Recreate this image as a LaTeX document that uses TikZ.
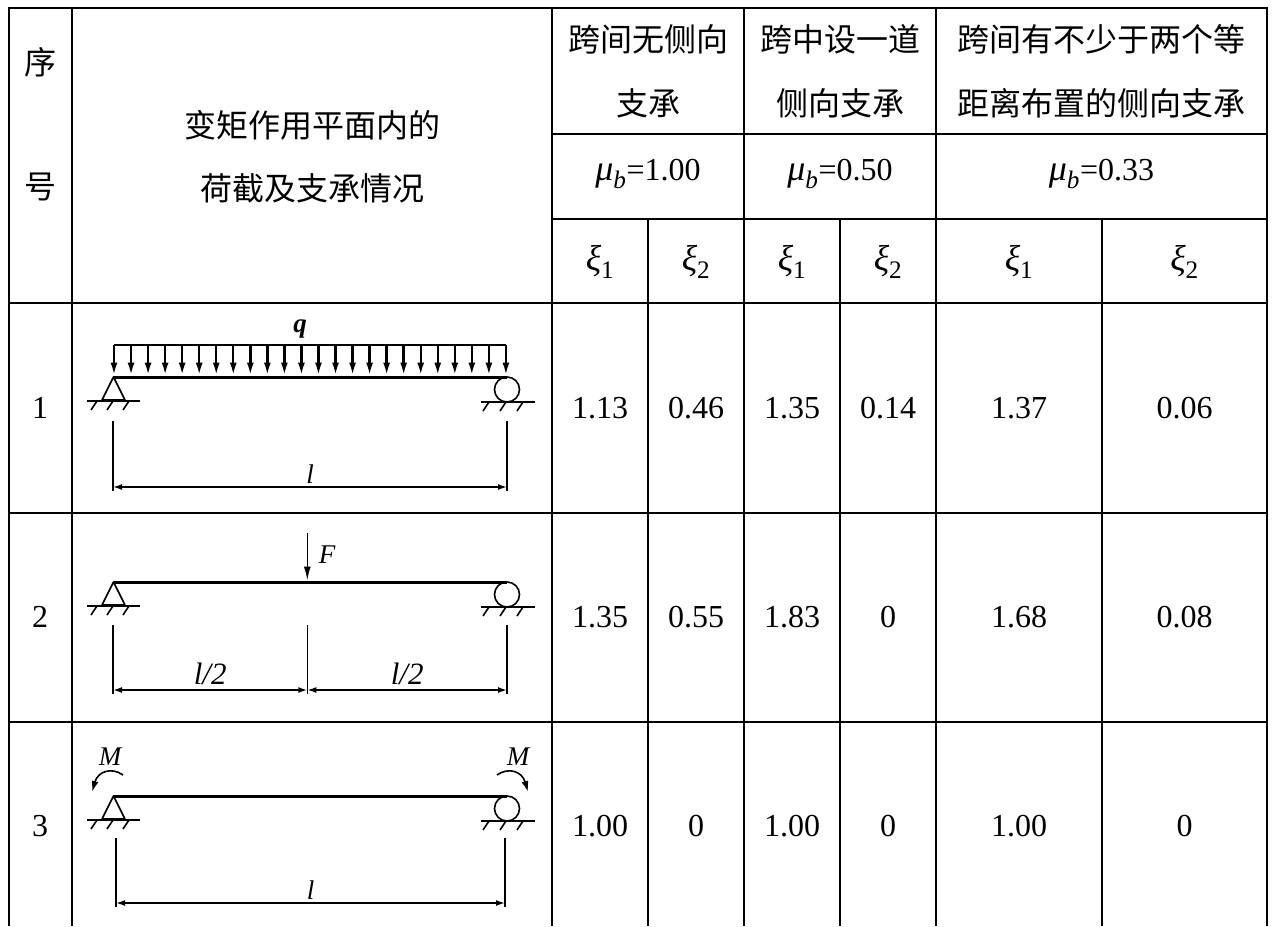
\documentclass[tikz,border=0pt]{standalone}
\usepackage{fontspec}
\setmainfont{Liberation Serif}
\newfontfamily\cjk{Noto Sans CJK SC}
\usetikzlibrary{arrows.meta}
\newcommand\mub{{\fontsize{36}{36}\selectfont\textit{μ}\textsubscript{\textit{b}}}}
\tikzset{
	hz/.style={font=\cjk\fontsize{32}{32}\selectfont},
	num/.style={font=\fontsize{32}{32}\selectfont},
	sym/.style={font=\fontsize{36}{36}\selectfont},
	lbl/.style={font=\fontsize{27}{27}\selectfont\itshape},
	gridline/.style={line width=2pt},
	beam/.style={line width=3pt},
	fine/.style={line width=1.6pt},
	load/.style={line width=2.4pt,-{Latex[length=13pt,width=7pt]}},
	dimline/.style={line width=1.6pt,{Latex[length=9pt,width=6pt]}-{Latex[length=9pt,width=6pt]}}
}
\begin{document}
\begin{tikzpicture}[x=1pt,y=-1pt]
	\useasboundingbox (0,0) rectangle (1273,926);
	\draw [gridline] (8.7,926) -- (8.7,7.5) -- (1267,7.5) -- (1267,926);
	\foreach \x in {71.7,552,744,936}
	\draw [gridline] (\x,7.5) -- (\x,926);
	\foreach \x in {647.5,840,1102}
	\draw [gridline] (\x,219) -- (\x,926);
	\foreach \y in {134,219}
	\draw [gridline] (552,\y) -- (1267,\y);
	\foreach \y in {303,512.5,721.5}
	\draw [gridline] (8.7,\y) -- (1267,\y);
	\node [hz] (xu) at (40,62) {序};
	\node [hz] (hao) at (40,187) {号};
	\node [hz] (case1) at (312,125) {变矩作用平面内的};
	\node [hz] (case2) at (312,188) {荷截及支承情况};
	\node [hz] (none1) at (648,39) {跨间无侧向};
	\node [hz] (none2) at (648,103) {支承};
	\node [hz] (one1) at (840,39) {跨中设一道};
	\node [hz] (one2) at (840,103) {侧向支承};
	\node [hz] (two1) at (1101.5,39) {跨间有不少于两个等};
	\node [hz] (two2) at (1101.5,103) {距离布置的侧向支承};
	\node [num] (mu1) at (648,174) {\mub=1.00};
	\node [num] (mu2) at (840,174) {\mub=0.50};
	\node [num] (mu3) at (1101.5,174) {\mub=0.33};
	\foreach \x/\k [count=\i] in {600/1,696/2,792/1,888/2,1019/1,1184.5/2}
	\node [sym] (xi\i) at (\x,262) {\textit{ξ}\textsubscript{\k}};
	\foreach \y/\r/\a/\b/\c/\d/\e/\f in {408/1/1.13/0.46/1.35/0.14/1.37/0.06,617/2/1.35/0.55/1.83/0/1.68/0.08,826/3/1.00/0/1.00/0/1.00/0}{
		\node [num] (no\r) at (40,\y) {\r};
		\node [num] (v\r a) at (600,\y) {\a};
		\node [num] (v\r b) at (696,\y) {\b};
		\node [num] (v\r c) at (792,\y) {\c};
		\node [num] (v\r d) at (888,\y) {\d};
		\node [num] (v\r e) at (1019,\y) {\e};
		\node [num] (v\r f) at (1184.5,\y) {\f};
	}
	\foreach \by in {377,582,796}{
		\draw [fine,line join=round] (113.5,\by) -- (102,\by+23) -- (125,\by+23) -- cycle;
		\draw [fine] (87,\by+24) -- (140,\by+24);
		\foreach \h in {97,113,129}
		\draw [fine] (\h,\by+24) -- ++(-6,9);
		\draw [fine] (507,\by+12.5) circle (12.5);
		\draw [fine] (481,\by+25) -- (535,\by+25);
		\foreach \h in {489,506,523}
		\draw [fine] (\h,\by+25) -- ++(-6,9);
		\draw [beam] (113,\by) -- (507,\by);
	}
	\draw [fine] (114,345) -- (506,345);
	\foreach \i in {0,...,23}
	\draw [load] ({114+\i*17.04},345) -- ({114+\i*17.04},375.5);
	\node [lbl,font=\fontsize{27}{27}\selectfont\bfseries\itshape] (q) at (300,329) {q};
	\coordinate (l1a) at (113,487);
	\coordinate (l1b) at (507,487);
	\draw [fine] (113,421) -- (l1a) -- +(0,4);
	\draw [fine] (507,421) -- (l1b) -- +(0,4);
	\draw [dimline] (l1a) -- (l1b) node [lbl,midway,above=-1pt] (l1) {l};
	\coordinate (ftop) at (307.3,533);
	\coordinate (fbot) at (307.3,580.5);
	\draw [fine,-{Latex[length=14pt,width=7pt]}] (ftop) -- (fbot);
	\node [lbl] (f) at (327,555) {F};
	\coordinate (l2a) at (113,690);
	\coordinate (l2m) at (307.3,690);
	\coordinate (l2b) at (507,690);
	\foreach \c in {l2a,l2m,l2b}
	\draw [fine] (\c) ++(0,-65) -- (\c) -- +(0,4);
	\draw [dimline] (l2a) -- (l2m) node [lbl,font=\fontsize{31}{31}\selectfont\itshape,midway,above=1pt] (h1) {l/2};
	\draw [dimline] (l2m) -- (l2b) node [lbl,font=\fontsize{31}{31}\selectfont\itshape,midway,above=1pt] (h2) {l/2};
	\draw [fine,-{Latex[length=11pt,width=7pt]}] (123,775) .. controls (112,767) and (98,771) .. (92,792);
	\draw [fine,-{Latex[length=11pt,width=7pt]}] (497,775) .. controls (508,767) and (522,771) .. (528,792);
	\node [lbl] (m1) at (110,757) {M};
	\node [lbl] (m2) at (518,757) {M};
	\coordinate (l3a) at (116,903);
	\coordinate (l3b) at (505,903);
	\draw [fine] (116,838) -- (l3a) -- +(0,4);
	\draw [fine] (505,838) -- (l3b) -- +(0,4);
	\draw [dimline] (l3a) -- (l3b) node [lbl,midway,above=-1pt] (l3) {l};
\end{tikzpicture}
\end{document}
